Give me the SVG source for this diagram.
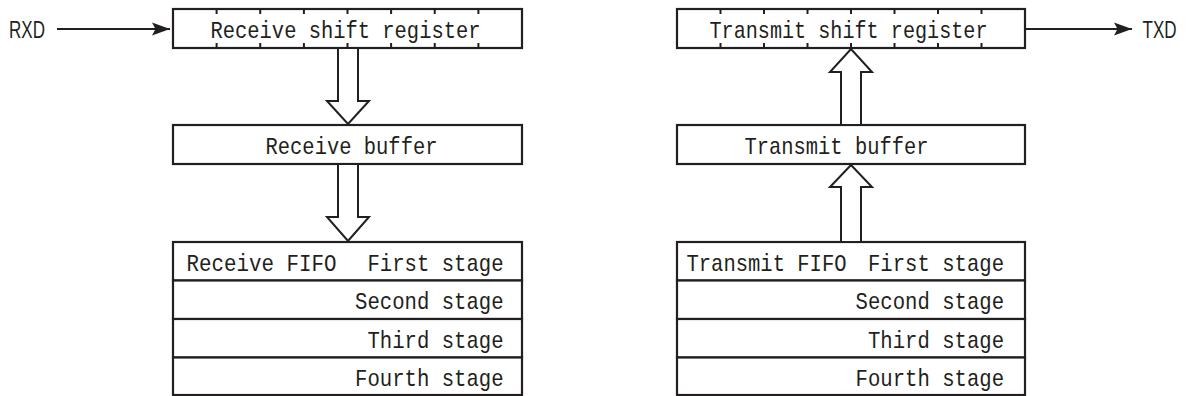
<svg xmlns="http://www.w3.org/2000/svg" width="1187" height="396" viewBox="0 0 1187 396">
<style>
.box{fill:#fff;stroke:#231f20;stroke-width:2.2}
.tick{stroke:#231f20;stroke-width:2}
.t{font-family:"Liberation Mono",monospace;font-size:24px;fill:#231f20}
.lbl{font-family:"Liberation Sans",Arial,sans-serif;font-size:24.5px;fill:#231f20}
.blk{fill:#fff;stroke:#231f20;stroke-width:2;stroke-linejoin:miter}
.wire{stroke:#231f20;stroke-width:2;fill:none}
</style>
<defs>
<marker id="ah" markerWidth="20" markerHeight="16" refX="18" refY="7" orient="auto" markerUnits="userSpaceOnUse">
<path d="M0,0.5 L18,7 L0,13.5 L3.5,7 Z" fill="#231f20"/>
</marker>
</defs>
<rect width="1187" height="396" fill="#fff"/>

<g id="rxd-label"><text class="lbl" transform="translate(9,37.5) scale(0.695,1)">RXD</text></g>
<g id="txd-label"><text class="lbl" transform="translate(1142.5,37.5) scale(0.695,1)">TXD</text></g>

<g id="receive-shift-register">
<rect class="box" x="173" y="9" width="349" height="39"/>
<g class="tick">
<path d="M216.6,9v5M260.25,9v5M303.9,9v5M347.5,9v5M391.1,9v5M434.75,9v5M478.4,9v5"/>
<path d="M216.6,48v-5M260.25,48v-5M303.9,48v-5M347.5,48v-5M391.1,48v-5M434.75,48v-5M478.4,48v-5"/>
</g>
<text class="t" x="345.5" y="37.5" text-anchor="middle" textLength="270" lengthAdjust="spacingAndGlyphs">Receive shift register</text>
</g>

<g id="receive-buffer">
<rect class="box" x="173" y="125" width="349" height="39"/>
<text class="t" x="351.5" y="153.5" text-anchor="middle" textLength="172" lengthAdjust="spacingAndGlyphs">Receive buffer</text>
</g>

<g id="receive-fifo">
<rect class="box" x="173" y="242" width="349" height="38.5"/>
<rect class="box" x="173" y="280.5" width="349" height="38.5"/>
<rect class="box" x="173" y="319" width="349" height="38.5"/>
<rect class="box" x="173" y="357.5" width="349" height="37.5"/>
<text class="t" x="186.5" y="270.5" textLength="150" lengthAdjust="spacingAndGlyphs">Receive FIFO</text>
<text class="t" x="503.5" y="270.5" text-anchor="end" textLength="136" lengthAdjust="spacingAndGlyphs">First stage</text>
<text class="t" x="503.5" y="309" text-anchor="end" textLength="148.5" lengthAdjust="spacingAndGlyphs">Second stage</text>
<text class="t" x="503.5" y="347.5" text-anchor="end" textLength="136" lengthAdjust="spacingAndGlyphs">Third stage</text>
<text class="t" x="503.5" y="386" text-anchor="end" textLength="148.5" lengthAdjust="spacingAndGlyphs">Fourth stage</text>
</g>

<g id="transmit-shift-register">
<rect class="box" x="677" y="9" width="348" height="39"/>
<g class="tick">
<path d="M720.5,9v5M764,9v5M807.5,9v5M851,9v5M894.5,9v5M938,9v5M981.5,9v5"/>
<path d="M720.5,48v-5M764,48v-5M807.5,48v-5M851,48v-5M894.5,48v-5M938,48v-5M981.5,48v-5"/>
</g>
<text class="t" x="848.5" y="37.5" text-anchor="middle" textLength="278" lengthAdjust="spacingAndGlyphs">Transmit shift register</text>
</g>

<g id="transmit-buffer">
<rect class="box" x="677" y="125" width="348" height="39"/>
<text class="t" x="836.5" y="153.5" text-anchor="middle" textLength="184" lengthAdjust="spacingAndGlyphs">Transmit buffer</text>
</g>

<g id="transmit-fifo">
<rect class="box" x="677" y="242" width="348" height="38.5"/>
<rect class="box" x="677" y="280.5" width="348" height="38.5"/>
<rect class="box" x="677" y="319" width="348" height="38.5"/>
<rect class="box" x="677" y="357.5" width="348" height="37.5"/>
<text class="t" x="686.5" y="270.5" textLength="160" lengthAdjust="spacingAndGlyphs">Transmit FIFO</text>
<text class="t" x="1004" y="270.5" text-anchor="end" textLength="136" lengthAdjust="spacingAndGlyphs">First stage</text>
<text class="t" x="1004" y="309" text-anchor="end" textLength="148.5" lengthAdjust="spacingAndGlyphs">Second stage</text>
<text class="t" x="1004" y="347.5" text-anchor="end" textLength="136" lengthAdjust="spacingAndGlyphs">Third stage</text>
<text class="t" x="1004" y="386" text-anchor="end" textLength="148.5" lengthAdjust="spacingAndGlyphs">Fourth stage</text>
</g>

<g id="connectors">
<path class="wire" d="M57,29 H170" marker-end="url(#ah)"/>
<path class="wire" d="M1026,29 H1132" marker-end="url(#ah)"/>
<path class="blk" d="M338,49 V101 H327 L348,124 L369,101 H358 V49"/>
<path class="blk" d="M338,165 V217 H327 L348,241 L369,217 H358 V165"/>
<path class="blk" d="M841,124 V72 H830 L851,49 L872,72 H861 V124"/>
<path class="blk" d="M841,241 V187 H830 L851,165 L872,187 H861 V241"/>
</g>
</svg>
